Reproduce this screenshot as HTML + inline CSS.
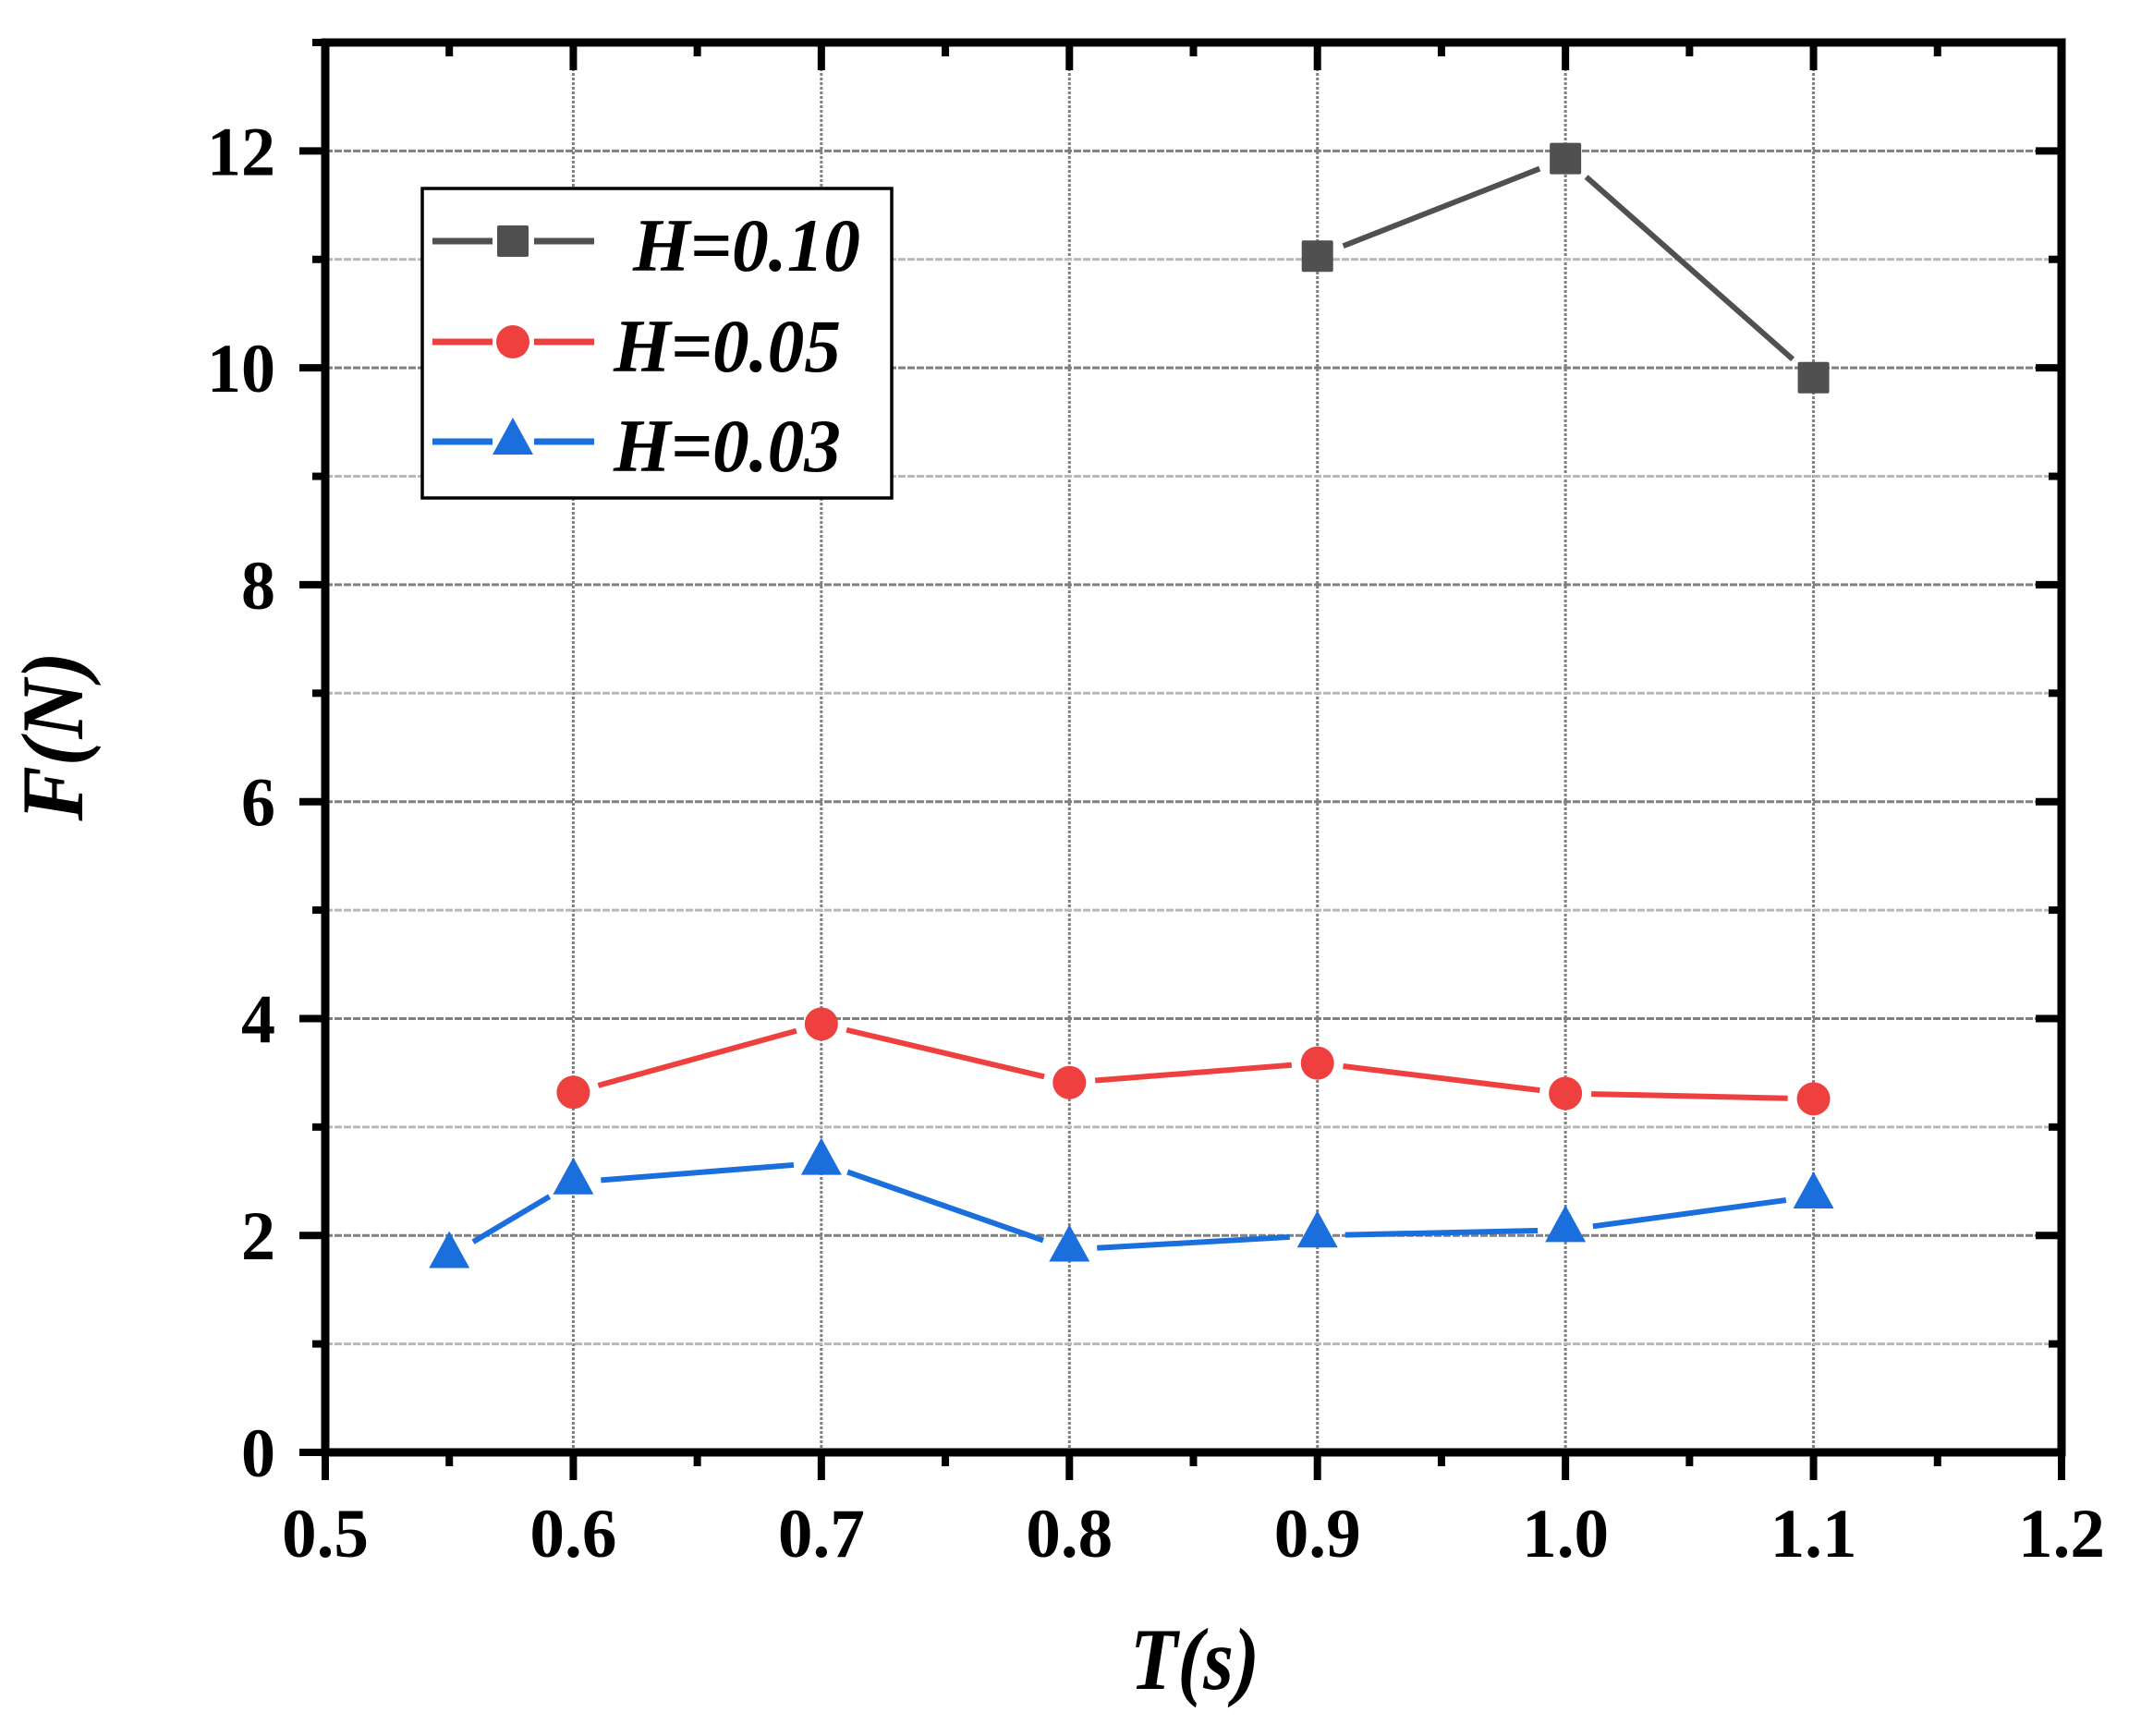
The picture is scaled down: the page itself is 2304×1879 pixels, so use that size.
<!DOCTYPE html>
<html><head><meta charset="utf-8"><style>
html,body{margin:0;padding:0;background:#fff;}
svg{display:block;}
text{font-family:"Liberation Serif","Times New Roman",serif;font-weight:bold;}
</style></head>
<body>
<svg id="chart" width="2304" height="1879" viewBox="0 0 2304 1879" xmlns="http://www.w3.org/2000/svg">
<g id="grid"></g>
<g id="series"></g>
<g id="axes"></g>
<g id="legend">
  <rect x="457" y="204" width="508" height="335" fill="#fff" stroke="#000" stroke-width="3.5"/>
</g>
<text x="1293" y="1828" font-family="Liberation Serif, serif" font-size="95" font-style="italic" text-anchor="middle" textLength="140" lengthAdjust="spacingAndGlyphs">T(s)</text>
<text transform="translate(89,797) rotate(-90)" font-family="Liberation Serif, serif" font-size="95" font-style="italic" text-anchor="middle" textLength="183" lengthAdjust="spacingAndGlyphs">F(N)</text>
</svg>
<script>
const xTicks = [0.5, 0.6, 0.7, 0.8, 0.9, 1.0, 1.1, 1.2];
const xTickLabels = ["0.5", "0.6", "0.7", "0.8", "0.9", "1.0", "1.1", "1.2"];
const yTicks = [0, 2, 4, 6, 8, 10, 12];
const yTickLabels = ["0", "2", "4", "6", "8", "10", "12"];
const xH10 = [0.9, 1.0, 1.1];
const yH10 = [11.03, 11.93, 9.91];
const xH05 = [0.6, 0.7, 0.8, 0.9, 1.0, 1.1];
const yH05 = [3.32, 3.95, 3.41, 3.59, 3.31, 3.26];
const xH03 = [0.55, 0.6, 0.7, 0.8, 0.9, 1.0, 1.1];
const yH03 = [1.81, 2.49, 2.67, 1.87, 2.0, 2.05, 2.36];
const seriesNames = ["H=0.10", "H=0.05", "H=0.03"];

const NS = "http://www.w3.org/2000/svg";
const X0 = 352, X1 = 2231, Y0 = 1572, Y1 = 46;
const xMin = 0.5, xMax = 1.2, yMin = 0, yMax = 13;
function sx(v){ return X0 + (v - xMin) / (xMax - xMin) * (X1 - X0); }
function sy(v){ return Y0 - (v - yMin) / (yMax - yMin) * (Y0 - Y1); }
function mk(tag, attrs, parent){
  const e = document.createElementNS(NS, tag);
  for (const k in attrs) e.setAttribute(k, attrs[k]);
  parent.appendChild(e);
  return e;
}
const grid = document.getElementById('grid');
const axes = document.getElementById('axes');
const series = document.getElementById('series');
const legend = document.getElementById('legend');

for (let i = 1; i < xTicks.length - 1; i++) {
  const l = mk('line', {x1: sx(xTicks[i]), x2: sx(xTicks[i]), y1: Y0, y2: Y1, stroke: '#808080', 'stroke-width': 3, 'stroke-dasharray': '3 2'}, grid);
  
  
}
for (let v = 1; v < 13; v++) {
  const major = v % 2 === 0;
  const l = mk('line', {x1: X0, x2: X1, y1: sy(v), y2: sy(v), stroke: major ? '#808080' : '#b8b8b8', 'stroke-width': 3, 'stroke-dasharray': '8 2'}, grid);
  
  
}

function segs(xs, ys, color, gap, name){
  const g = mk('g', {}, series);
  
  
  for (let i = 0; i < xs.length - 1; i++) {
    const ax = sx(xs[i]), ay = sy(ys[i]), bx = sx(xs[i+1]), by = sy(ys[i+1]);
    const d = Math.hypot(bx - ax, by - ay), ux = (bx - ax) / d, uy = (by - ay) / d;
    const s = mk('line', {x1: ax + ux*gap, y1: ay + uy*gap, x2: bx - ux*gap, y2: by - uy*gap, stroke: color, 'stroke-width': 6}, g);
    
    
  }
}
function square(cx, cy, c, parent){ return mk('rect', {x: cx-17, y: cy-17, width: 34, height: 34, rx: 2, fill: c}, parent); }
function circle(cx, cy, c, parent){ return mk('circle', {cx: cx, cy: cy, r: 18, fill: c}, parent); }
function tri(cx, cy, c, parent){ return mk('polygon', {points: `${cx},${cy-27} ${cx-22},${cy+13} ${cx+22},${cy+13}`, fill: c}, parent); }

const C10 = '#505050', C05 = '#ef4040', C03 = '#1a6fdc';
segs(xH10, yH10, C10, 30, 'h010');
segs(xH05, yH05, C05, 28, 'h005');
segs(xH03, yH03, C03, 30, 'h003');
for (let i = 0; i < xH10.length; i++) {
  const m = square(sx(xH10[i]), sy(yH10[i]), C10, series);
  
  
}
for (let i = 0; i < xH05.length; i++) {
  const m = circle(sx(xH05[i]), sy(yH05[i]), C05, series);
  
  
}
for (let i = 0; i < xH03.length; i++) {
  const m = tri(sx(xH03[i]), sy(yH03[i]), C03, series);
  
  
}

const frame = mk('rect', {x: X0, y: Y1, width: X1 - X0, height: Y0 - Y1, fill: 'none', stroke: '#000', 'stroke-width': 9}, axes);


for (let i = 0; i < xTicks.length; i++) {
  const x = sx(xTicks[i]);
  const t = mk('line', {x1: x, x2: x, y1: Y0, y2: Y0 + 30, stroke: '#000', 'stroke-width': 8}, axes);
  
  
  const tt = mk('line', {x1: x, x2: x, y1: Y1, y2: Y1 + 30, stroke: '#000', 'stroke-width': 8}, axes);
  
  
  const lb = mk('text', {x: x, y: 1685, 'font-size': 75, 'text-anchor': 'middle', 'font-family': 'Liberation Serif, serif', textLength: 94, lengthAdjust: 'spacingAndGlyphs'}, axes);
  lb.textContent = xTickLabels[i];
  
  
  if (i < xTicks.length - 1) {
    const xm = sx((xTicks[i] + xTicks[i+1]) / 2);
    const m1 = mk('line', {x1: xm, x2: xm, y1: Y0, y2: Y0 + 15, stroke: '#000', 'stroke-width': 8}, axes);
    
    
    const m2 = mk('line', {x1: xm, x2: xm, y1: Y1, y2: Y1 + 15, stroke: '#000', 'stroke-width': 8}, axes);
    
    
  }
}
for (let v = 0; v <= 13; v++) {
  const y = sy(v);
  const major = v % 2 === 0;
  const len = major ? 28 : 14;
  const a = mk('line', {x1: X0 - len, x2: X0, y1: y, y2: y, stroke: '#000', 'stroke-width': 8}, axes);
  
  
  const b = mk('line', {x1: X1 - len, x2: X1, y1: y, y2: y, stroke: '#000', 'stroke-width': 8}, axes);
  
  
}
for (let i = 0; i < yTicks.length; i++) {
  const w = yTickLabels[i].length * 37;
  const lb = mk('text', {x: 298, y: sy(yTicks[i]) + 26, 'font-size': 75, 'text-anchor': 'end', 'font-family': 'Liberation Serif, serif', textLength: w, lengthAdjust: 'spacingAndGlyphs'}, axes);
  lb.textContent = yTickLabels[i];
  
  
}

const legColors = [C10, C05, C03];
const legRows = [261, 370, 478];
const legTextX = [685, 664, 664];
const legMarkers = [square, circle, tri];
for (let i = 0; i < 3; i++) {
  const g = mk('g', {}, legend);
  
  
  const y = legRows[i];
  mk('line', {x1: 468, x2: 533, y1: y, y2: y, stroke: legColors[i], 'stroke-width': 7}, g);
  mk('line', {x1: 578, x2: 643, y1: y, y2: y, stroke: legColors[i], 'stroke-width': 7}, g);
  legMarkers[i](555, i === 2 ? y + 1 : y, legColors[i], g);
  const t = mk('text', {x: legTextX[i], y: y + 32, 'font-size': 82, 'font-style': 'italic', 'font-family': 'Liberation Serif, serif', textLength: 246, lengthAdjust: 'spacingAndGlyphs'}, g);
  t.textContent = seriesNames[i];
  
  
}
</script>
</body></html>
